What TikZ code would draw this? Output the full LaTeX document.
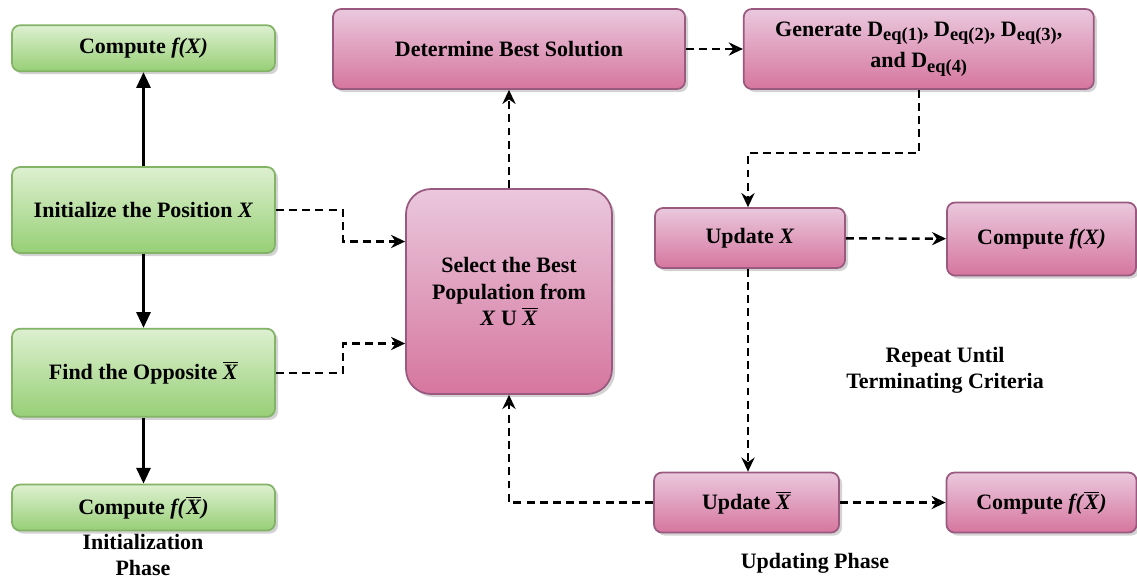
\documentclass[tikz,border=0pt]{standalone}
\usepackage{fontspec}
\setmainfont{Liberation Serif}
\usepackage{tikz}
\usetikzlibrary{positioning}
\usetikzlibrary{calc}
\usetikzlibrary{arrows.meta}
\usetikzlibrary{shadows}

\definecolor{gtop}{HTML}{DDF0D0}
\definecolor{gbot}{HTML}{97CF76}
\definecolor{gline}{HTML}{82B366}
\definecolor{ptop}{HTML}{EAC8DD}
\definecolor{pbot}{HTML}{D6769F}
\definecolor{pline}{HTML}{9A5A80}

\newcommand{\xbar}{\ensuremath{\overline{\mbox{\textit{X}}}}}
\newcommand{\deq}[1]{D\raisebox{-0.45ex}{\fontsize{10.5}{12}\selectfont eq(#1)}}

\begin{document}
\begin{tikzpicture}[align=center,font=\fontsize{12.5}{15}\selectfont\bfseries,
	gnode/.style={rectangle,rounded corners=0.16cm,draw=gline,line width=1pt,top color=gtop,bottom color=gbot,minimum width=5.26cm,drop shadow={opacity=0.35,shadow xshift=0.06cm,shadow yshift=-0.06cm}},
	pnode/.style={rectangle,rounded corners=0.16cm,draw=pline,line width=1pt,top color=ptop,bottom color=pbot,drop shadow={opacity=0.35,shadow xshift=0.06cm,shadow yshift=-0.06cm}},
	sline/.style={line width=1.6pt,-{Triangle[length=9pt,width=8pt]}},
	dline/.style={line width=1.4pt,dash pattern=on 4.5pt off 3pt,-{Stealth[open,length=8pt,width=7.5pt]}}]
	\useasboundingbox (0,0) rectangle (22.74,-11.62);
	% initialization phase
	\node[gnode,minimum height=1.72cm] (init) at (2.87,-4.2){Initialize the Position \textit{X}};
	\node[gnode,minimum height=0.92cm] (cfx)[above = 1.88cm of init]{Compute \textit{f(X)}};
	\node[gnode,minimum height=1.76cm] (opp)[below = 1.48cm of init]{Find the Opposite \xbar};
	\node[gnode,minimum height=0.92cm] (cfxb)[below = 1.32cm of opp]{Compute \textit{f(}\xbar\textit{)}};
	\node (initlbl) at (2.86,-11.1){Initialization\\Phase};
	% selection
	\node[pnode,rounded corners=0.5cm,minimum width=4.12cm,minimum height=4.1cm] (sel) at (10.18,-5.83){Select the Best\\Population from\\\textit{X} U \xbar};
	\node[pnode,minimum width=7.04cm,minimum height=1.6cm] (best) at (10.18,-0.98){Determine Best Solution};
	\node[pnode,minimum width=7.0cm,minimum height=1.6cm] (gen)[right = 1.14cm of best]{Generate \deq{1}, \deq{2}, \deq{3},\\[3pt]and \deq{4}};
	% updating phase
	\node[pnode,minimum width=3.8cm,minimum height=1.2cm] (ux) at (15.0,-4.76){Update \textit{X}};
	\node[pnode,minimum width=3.78cm,minimum height=1.46cm] (cux) at (20.83,-4.78){Compute \textit{f(X)}};
	\node[pnode,minimum width=3.7cm,minimum height=1.2cm] (uxb) at (14.93,-10.05){Update \xbar};
	\node[pnode,minimum width=3.8cm,minimum height=1.2cm] (cuxb) at (20.83,-10.05){Compute \textit{f(}\xbar\textit{)}};
	\node (rep) at (18.9,-7.4){Repeat Until\\Terminating Criteria};
	\node (updlbl) at (16.3,-11.26){Updating Phase};
	\coordinate (uxs) at ($(ux.south)+(-0.04,0)$);
	\draw[sline] (init) -- (cfx);
	\draw[sline] (init) -- (opp);
	\draw[sline] (opp) -- (cfxb);
	\draw[dline] (init.east) -- ++(1.34,0) |- ($(sel.west)+(0,1.0)$);
	\draw[dline] (opp.east) -- ++(1.34,0) |- ($(sel.west)+(0,-1.04)$);
	\draw[dline] (sel) -- (best);
	\draw[dline] (best) -- (gen);
	\draw[dline] (gen.south) -- ++(0,-1.26) -| ($(ux.north)+(-0.04,0)$);
	\draw[dline] (uxs) -- (uxs |- uxb.north);
	\draw[dline] (ux) -- (cux);
	\draw[dline] (uxb) -- (cuxb);
	\draw[dline] (uxb.west) -| (sel.south);
\end{tikzpicture}
\end{document}
